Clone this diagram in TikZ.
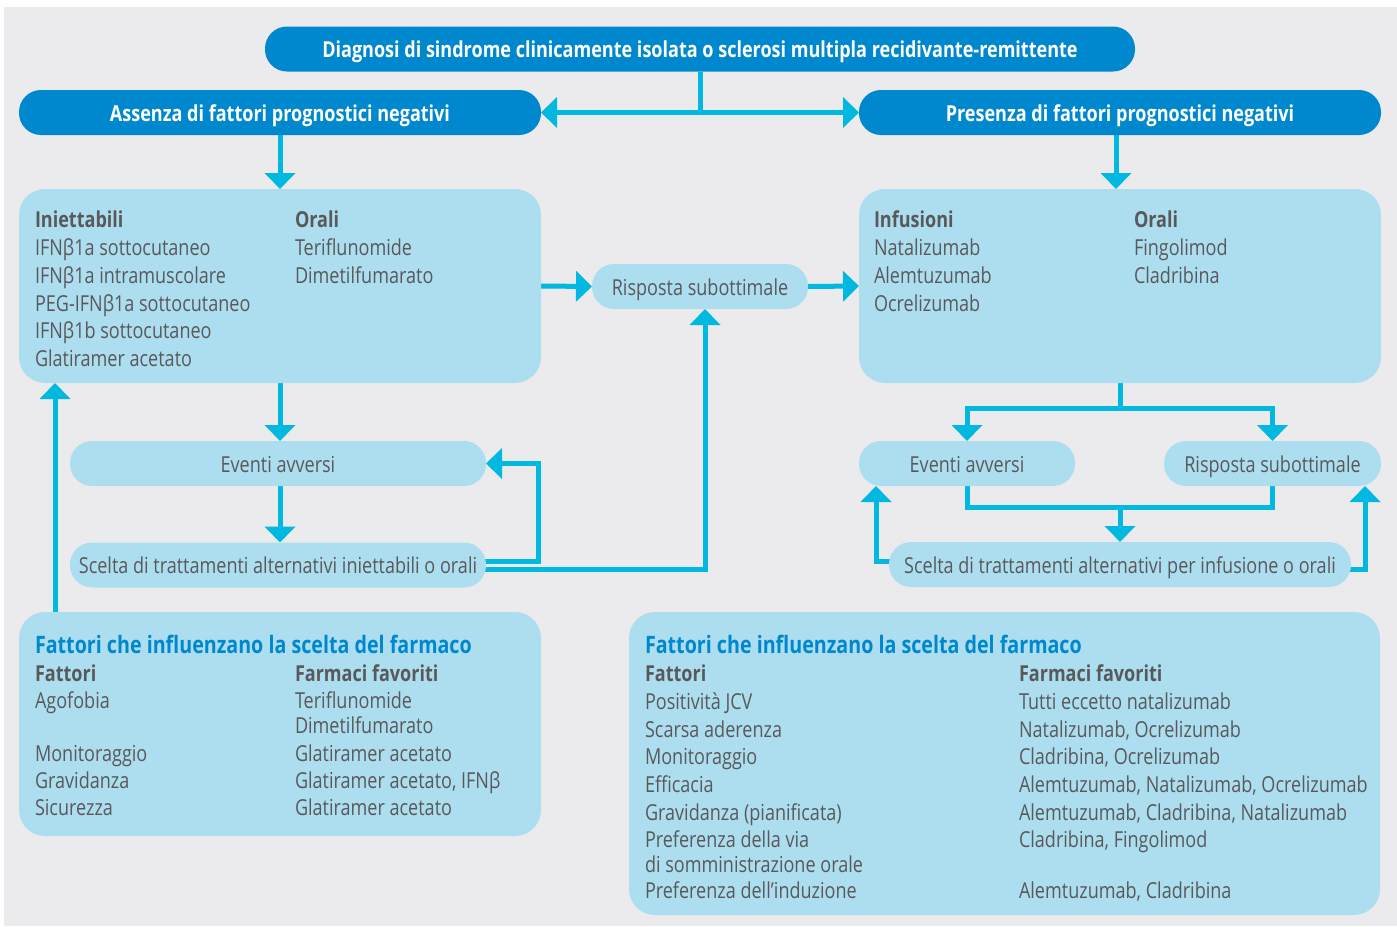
\documentclass[tikz,border=0pt]{standalone}
\usepackage{fontspec}
\setmainfont{Open Sans}[FakeStretch=0.82]
\usetikzlibrary{arrows.meta,calc}
\definecolor{bgc}{HTML}{EBEBED}
\definecolor{dkb}{HTML}{0088CE}
\definecolor{cya}{HTML}{00B8E0}
\definecolor{ltb}{HTML}{ADDEF0}
\definecolor{txc}{HTML}{58595B}
\pgfdeclarelayer{back}
\pgfdeclarelayer{lines}
\pgfsetlayers{back,lines,main}
\begin{document}
\begin{tikzpicture}[x=1pt,y=-1pt,
  every node/.style={inner sep=0pt,outer sep=0pt},
  bodyt/.style={anchor=base west,text=txc,font=\fontsize{22}{26}\selectfont},
  headt/.style={anchor=base west,text=txc,font=\fontsize{22}{26}\selectfont\bfseries},
  titlet/.style={anchor=base west,text=dkb,font=\fontsize{24}{29}\selectfont\bfseries},
  dpill/.style={fill=dkb,rounded corners=22pt,minimum height=45pt,text=white,
    font=\fontsize{22}{26}\selectfont\bfseries,text height=21pt,text depth=4pt},
  lpill/.style={fill=ltb,rounded corners=22pt,minimum height=45pt,text=txc,
    font=\fontsize{22}{26}\selectfont,text height=21pt,text depth=4pt},
  lbox/.style={fill=ltb,rounded corners=26pt,anchor=north west},
  conn/.style={draw=cya,line width=5pt,-{Triangle[length=16pt,width=30pt]}},
  cline/.style={draw=cya,line width=5pt},
]
\useasboundingbox (0,0) rectangle (1397,926);
\begin{pgfonlayer}{back}
\fill[white] (0,0) rectangle (1397,926);
\fill[bgc] (4,7) rectangle (1397,926);
\end{pgfonlayer}

% top level
\node[dpill,minimum width=870pt] (T) at (700,49) {Diagnosi di sindrome clinicamente isolata o sclerosi multipla recidivante-remittente};
\node[dpill,minimum width=522pt] (A) at (280,112.5) {Assenza di fattori prognostici negativi};
\node[dpill,minimum width=522pt] (P) at (1120,112.5) {Presenza di fattori prognostici negativi};

% big boxes
\node[lbox,minimum width=522pt,minimum height=194pt] (L1) at (19,189) {};
\node[lbox,minimum width=522pt,minimum height=194pt] (R2) at (859,189) {};
\node[lbox,minimum width=522pt,minimum height=224pt] (F1) at (19,612) {};
\node[lbox,minimum width=751pt,minimum height=303pt] (F2) at (629,612) {};

% pills
\node[lpill,minimum width=216pt] (R1) at (700,286.5) {Risposta subottimale};
\node[lpill,minimum width=416pt] (E1) at (278,463.5) {Eventi avversi};
\node[lpill,minimum width=416pt] (S1) at (278,565) {Scelta di trattamenti alternativi iniettabili o orali};
\node[lpill,minimum width=216pt] (E2) at (967,463.5) {Eventi avversi};
\node[lpill,minimum width=217pt] (R3) at (1272.5,463.5) {Risposta subottimale};
\node[lpill,minimum width=462pt] (S2) at (1120,564.5) {Scelta di trattamenti alternativi per infusione o orali};

% L1 text
\node[headt] (L1h) at (35,227) {Iniettabili};
\node[bodyt] (L1a) at (35,255) {IFNβ1a sottocutaneo};
\node[bodyt] (L1b) at (35,283) {IFNβ1a intramuscolare};
\node[bodyt] (L1c) at (35,311) {PEG-IFNβ1a sottocutaneo};
\node[bodyt] (L1d) at (35,338) {IFNβ1b sottocutaneo};
\node[bodyt] (L1e) at (35,366) {Glatiramer acetato};
\node[headt] (L1k) at (295,227) {Orali};
\node[bodyt] (L1f) at (295,255) {Teriflunomide};
\node[bodyt] (L1g) at (295,283) {Dimetilfumarato};

% R2 text
\node[headt] (R2h) at (874,227) {Infusioni};
\node[bodyt] (R2a) at (874,255) {Natalizumab};
\node[bodyt] (R2b) at (874,283) {Alemtuzumab};
\node[bodyt] (R2c) at (874,311) {Ocrelizumab};
\node[headt] (R2k) at (1134,227) {Orali};
\node[bodyt] (R2d) at (1134,255) {Fingolimod};
\node[bodyt] (R2e) at (1134,283) {Cladribina};

% F1 text
\node[titlet] (F1t) at (35,653) {Fattori che influenzano la scelta del farmaco};
\node[headt] (F1h) at (35,681) {Fattori};
\node[headt] (F1k) at (295,681) {Farmaci favoriti};
\node[bodyt] (F1a) at (35,708) {Agofobia};
\node[bodyt] (F1b) at (35,761) {Monitoraggio};
\node[bodyt] (F1c) at (35,788) {Gravidanza};
\node[bodyt] (F1d) at (35,815) {Sicurezza};
\node[bodyt] (F1e) at (295,708) {Teriflunomide};
\node[bodyt] (F1f) at (295,733) {Dimetilfumarato};
\node[bodyt] (F1g) at (295,761) {Glatiramer acetato};
\node[bodyt] (F1i) at (295,788) {Glatiramer acetato, IFNβ};
\node[bodyt] (F1j) at (295,815) {Glatiramer acetato};

% F2 text
\node[titlet] (F2t) at (645,653) {Fattori che influenzano la scelta del farmaco};
\node[headt] (F2h) at (645,681) {Fattori};
\node[headt] (F2k) at (1019,681) {Farmaci favoriti};
\node[bodyt] (F2a) at (645,709) {Positività JCV};
\node[bodyt] (F2b) at (645,737) {Scarsa aderenza};
\node[bodyt] (F2c) at (645,764) {Monitoraggio};
\node[bodyt] (F2d) at (645,792) {Efficacia};
\node[bodyt] (F2e) at (645,820) {Gravidanza (pianificata)};
\node[bodyt] (F2f) at (645,847) {Preferenza della via};
\node[bodyt] (F2g) at (645,872) {di somministrazione orale};
\node[bodyt] (F2i) at (645,898) {Preferenza dell’induzione};
\node[bodyt] (F2m) at (1019,709) {Tutti eccetto natalizumab};
\node[bodyt] (F2n) at (1019,737) {Natalizumab, Ocrelizumab};
\node[bodyt] (F2o) at (1019,764) {Cladribina, Ocrelizumab};
\node[bodyt] (F2p) at (1019,792) {Alemtuzumab, Natalizumab, Ocrelizumab};
\node[bodyt] (F2q) at (1019,820) {Alemtuzumab, Cladribina, Natalizumab};
\node[bodyt] (F2r) at (1019,847) {Cladribina, Fingolimod};
\node[bodyt] (F2s) at (1019,898) {Alemtuzumab, Cladribina};

% connectors
\begin{pgfonlayer}{lines}
\draw[conn] (T.south) |- (A.east);
\draw[conn] (T.south) |- (P.west);
\draw[conn] (A.south) -- (A.south |- L1.north);
\draw[conn] ([xshift=-4pt]P.south) -- ([xshift=-4pt]P.south |- R2.north);
\draw[conn] (L1.east) -- (R1.west);
\draw[conn] (R1.east) -- (R2.west);
\draw[conn] (L1.south) -- (L1.south |- E1.north);
\draw[conn] (L1.south |- E1.south) -- (L1.south |- S1.north);
\draw[conn] ([xshift=-6pt,yshift=4pt]S1.east) -- ++(58,0) |- (E1.east);
\draw[conn] ([xshift=-6pt,yshift=-4.5pt]S1.east) -| ([xshift=5pt]R1.south);
\draw[conn] ([xshift=36pt]F1.north west) -- ([xshift=36pt]L1.south west);
\draw[conn] (R2.south) -- ++(0,25) -| (E2.north);
\draw[conn] (R2.south) -- ++(0,25) -| (R3.north);
\draw[cline] (E2.south) -- ++(0,21) -| (R3.south);
\draw[conn] (S2.north |- E2.south) ++(0,21) -- (S2.north);
\draw[conn] ([xshift=6pt,yshift=3pt]S2.west) -| ([xshift=17pt]E2.south west);
\draw[conn] ([xshift=-6pt,yshift=-5pt]S2.east) -| ([xshift=-16pt]R3.south east);
\end{pgfonlayer}
\end{tikzpicture}
\end{document}
